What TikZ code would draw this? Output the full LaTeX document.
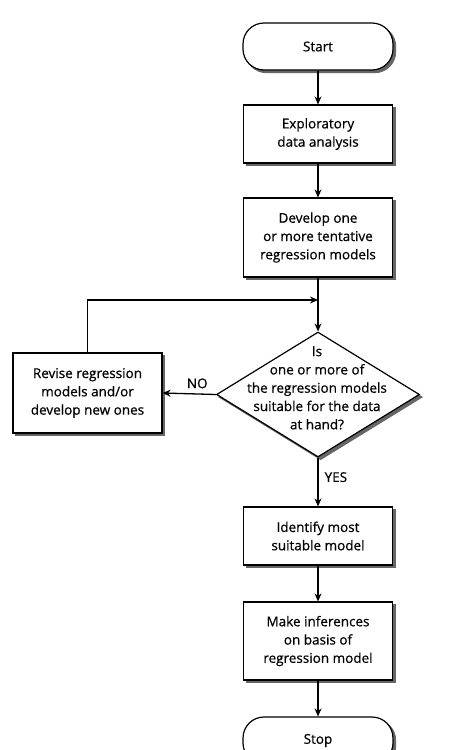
\documentclass[tikz,border=0pt]{standalone}
\usepackage{fontspec}
\setmainfont{Open Sans}[FakeBold=0.6]
\usetikzlibrary{shapes.geometric,arrows.meta}

\begin{document}
\begin{tikzpicture}[x=1pt,y=1pt,
    font=\fontsize{13.5}{18.3}\selectfont,
    every node/.style={align=center,inner sep=0pt},
    flowshadow/.style={preaction={draw=black!60,fill=black!60,line width=1.2pt,transform canvas={xshift=2.6pt,yshift=-2.6pt}}},
    stepbox/.style={draw,fill=white,line width=1.2pt,minimum width=149pt,flowshadow},
    termbox/.style={stepbox,rounded corners=21pt,minimum width=150pt,minimum height=47pt},
    askbox/.style={draw,fill=white,line width=1.2pt,diamond,minimum width=203pt,minimum height=125pt,flowshadow},
    flow/.style={line width=1.3pt,-{Stealth[length=8pt,width=7pt]}}]
    \useasboundingbox (0,0) rectangle (476,-750);
    % main column
    \node[termbox] (start) at (318,-46.5) {Start};
    \node[stepbox,minimum height=58pt] (explore) at (318,-134) {Exploratory\\data analysis};
    \node[stepbox,minimum height=79pt] (develop) at (318,-237.5) {Develop one\\or more tentative\\regression models};
    \node[askbox] (suitable) at (318,-394.5) {};
    \node (suitabletext) at (317,-388) {Is\\one or more of\\the regression models\\suitable for the data\\at hand?};
    \node[stepbox,minimum height=80pt] (revise) at (87.5,-393) {Revise regression\\models and/or\\develop new ones};
    \node[stepbox,minimum height=58pt] (identify) at (318,-536) {Identify most\\suitable model};
    \node[stepbox,minimum height=78pt] (infer) at (318,-641) {Make inferences\\on basis of\\regression model};
    \node[termbox] (stop) at (318,-740.5) {Stop};
    \coordinate (join) at (318,-300);
    % connectors
    \draw[flow] (start) -- (explore);
    \draw[flow] (explore) -- (develop);
    \draw[flow] (develop) -- (suitable);
    \draw[flow] (suitable.west) -- node[pos=0.35,above=5pt] (no) {NO} (revise.east);
    \draw[flow] (revise.north) |- (join);
    \draw[flow] (suitable.south) -- node[right=6pt,pos=0.4] (yes) {YES} (identify.north);
    \draw[flow] (identify) -- (infer);
    \draw[flow] (infer) -- (stop);
\end{tikzpicture}
\end{document}
